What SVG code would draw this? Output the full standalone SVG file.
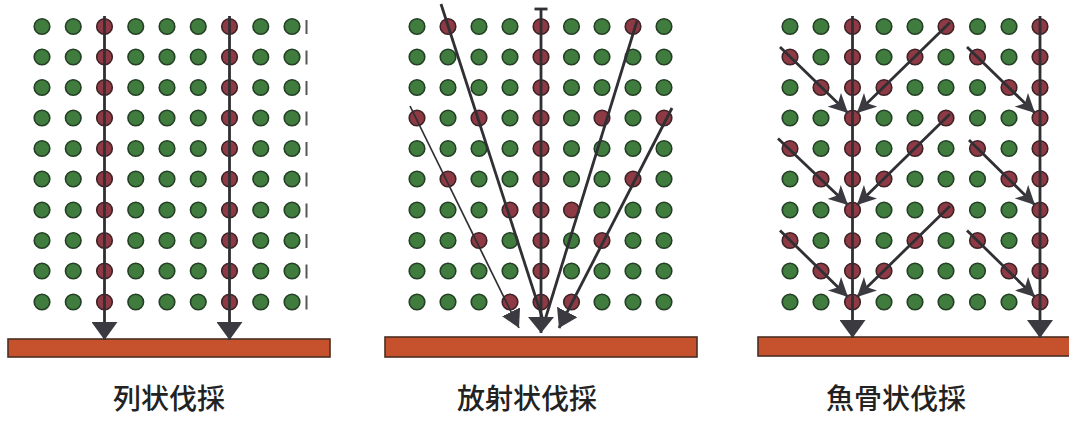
<svg xmlns="http://www.w3.org/2000/svg" xmlns:xlink="http://www.w3.org/1999/xlink" width="1069" height="421" viewBox="0 0 1069 421">
<style>
.g{fill:#3f7c3e;stroke:#243f25;stroke-width:1.6}
.r{fill:#8e3a44;stroke:#3d2226;stroke-width:1.6}
.ln{stroke:#2f2f34;stroke-width:2.8;fill:none}
.thin{stroke:#2f2f34;stroke-width:1.7;fill:none}
.stub{stroke:#555;stroke-width:2}
.bar{fill:#c5522d;stroke:#4b2e22;stroke-width:1.6}
.lbl{font-family:"Noto Sans CJK JP","Noto Sans CJK SC",sans-serif;font-size:28px;font-weight:500;fill:#222;text-anchor:middle}
.hd{fill:#3a3a40}
</style>
<defs>
<circle id="dg" r="7.8" class="g"/>
<circle id="dr" r="7.8" class="r"/>
<marker id="hv" viewBox="0 0 18 26" refX="18" refY="13" markerWidth="18" markerHeight="26" markerUnits="userSpaceOnUse" orient="auto"><path class="hd" d="M0,0 L18,13 L0,26 z"/></marker>
<marker id="hc" viewBox="0 0 16 26" refX="16" refY="13" markerWidth="16" markerHeight="26" markerUnits="userSpaceOnUse" orient="auto"><path class="hd" d="M0,0 L16,13 L0,26 z"/></marker>
<marker id="hs" viewBox="0 0 18 20" refX="18" refY="10" markerWidth="18" markerHeight="20" markerUnits="userSpaceOnUse" orient="auto"><path class="hd" d="M0,0 L18,10 L0,20 z"/></marker>
<marker id="hm" viewBox="0 0 18 23" refX="18" refY="11.5" markerWidth="18" markerHeight="23" markerUnits="userSpaceOnUse" orient="auto"><path class="hd" d="M0,0 L18,11.5 L0,23 z"/></marker>
<marker id="hb" viewBox="0 0 19 19" refX="19" refY="9.5" markerWidth="19" markerHeight="19" markerUnits="userSpaceOnUse" orient="auto"><path class="hd" d="M0,0 L19,9.5 L0,19 L5,9.5 z"/></marker>
</defs>
<rect width="1069" height="421" fill="#ffffff"/>

<!-- Panel 1 -->
<g id="panel1-trees">
<use href="#dg" x="42" y="26.5"/><use href="#dg" x="73.25" y="26.5"/><use href="#dr" x="104.5" y="26.5"/><use href="#dg" x="135.75" y="26.5"/><use href="#dg" x="167" y="26.5"/><use href="#dg" x="198.25" y="26.5"/><use href="#dr" x="229.5" y="26.5"/><use href="#dg" x="260.75" y="26.5"/><use href="#dg" x="292" y="26.5"/>
<use href="#dg" x="42" y="57"/><use href="#dg" x="73.25" y="57"/><use href="#dr" x="104.5" y="57"/><use href="#dg" x="135.75" y="57"/><use href="#dg" x="167" y="57"/><use href="#dg" x="198.25" y="57"/><use href="#dr" x="229.5" y="57"/><use href="#dg" x="260.75" y="57"/><use href="#dg" x="292" y="57"/>
<use href="#dg" x="42" y="87.5"/><use href="#dg" x="73.25" y="87.5"/><use href="#dr" x="104.5" y="87.5"/><use href="#dg" x="135.75" y="87.5"/><use href="#dg" x="167" y="87.5"/><use href="#dg" x="198.25" y="87.5"/><use href="#dr" x="229.5" y="87.5"/><use href="#dg" x="260.75" y="87.5"/><use href="#dg" x="292" y="87.5"/>
<use href="#dg" x="42" y="118"/><use href="#dg" x="73.25" y="118"/><use href="#dr" x="104.5" y="118"/><use href="#dg" x="135.75" y="118"/><use href="#dg" x="167" y="118"/><use href="#dg" x="198.25" y="118"/><use href="#dr" x="229.5" y="118"/><use href="#dg" x="260.75" y="118"/><use href="#dg" x="292" y="118"/>
<use href="#dg" x="42" y="148.5"/><use href="#dg" x="73.25" y="148.5"/><use href="#dr" x="104.5" y="148.5"/><use href="#dg" x="135.75" y="148.5"/><use href="#dg" x="167" y="148.5"/><use href="#dg" x="198.25" y="148.5"/><use href="#dr" x="229.5" y="148.5"/><use href="#dg" x="260.75" y="148.5"/><use href="#dg" x="292" y="148.5"/>
<use href="#dg" x="42" y="179"/><use href="#dg" x="73.25" y="179"/><use href="#dr" x="104.5" y="179"/><use href="#dg" x="135.75" y="179"/><use href="#dg" x="167" y="179"/><use href="#dg" x="198.25" y="179"/><use href="#dr" x="229.5" y="179"/><use href="#dg" x="260.75" y="179"/><use href="#dg" x="292" y="179"/>
<use href="#dg" x="42" y="210"/><use href="#dg" x="73.25" y="210"/><use href="#dr" x="104.5" y="210"/><use href="#dg" x="135.75" y="210"/><use href="#dg" x="167" y="210"/><use href="#dg" x="198.25" y="210"/><use href="#dr" x="229.5" y="210"/><use href="#dg" x="260.75" y="210"/><use href="#dg" x="292" y="210"/>
<use href="#dg" x="42" y="240.5"/><use href="#dg" x="73.25" y="240.5"/><use href="#dr" x="104.5" y="240.5"/><use href="#dg" x="135.75" y="240.5"/><use href="#dg" x="167" y="240.5"/><use href="#dg" x="198.25" y="240.5"/><use href="#dr" x="229.5" y="240.5"/><use href="#dg" x="260.75" y="240.5"/><use href="#dg" x="292" y="240.5"/>
<use href="#dg" x="42" y="271"/><use href="#dg" x="73.25" y="271"/><use href="#dr" x="104.5" y="271"/><use href="#dg" x="135.75" y="271"/><use href="#dg" x="167" y="271"/><use href="#dg" x="198.25" y="271"/><use href="#dr" x="229.5" y="271"/><use href="#dg" x="260.75" y="271"/><use href="#dg" x="292" y="271"/>
<use href="#dg" x="42" y="302"/><use href="#dg" x="73.25" y="302"/><use href="#dr" x="104.5" y="302"/><use href="#dg" x="135.75" y="302"/><use href="#dg" x="167" y="302"/><use href="#dg" x="198.25" y="302"/><use href="#dr" x="229.5" y="302"/><use href="#dg" x="260.75" y="302"/><use href="#dg" x="292" y="302"/>
<g class="stub">
<line x1="306.5" y1="20" x2="306.5" y2="34"/><line x1="306.5" y1="50.5" x2="306.5" y2="64.5"/><line x1="306.5" y1="81" x2="306.5" y2="95"/><line x1="306.5" y1="111.5" x2="306.5" y2="125.5"/><line x1="306.5" y1="142" x2="306.5" y2="156"/><line x1="306.5" y1="172.5" x2="306.5" y2="186.5"/><line x1="306.5" y1="203.5" x2="306.5" y2="217.5"/><line x1="306.5" y1="234" x2="306.5" y2="248"/><line x1="306.5" y1="264.5" x2="306.5" y2="278.5"/><line x1="306.5" y1="295.5" x2="306.5" y2="309.5"/>
</g>
</g>
<rect id="panel1-road" class="bar" x="8" y="339" width="322" height="18"/>
<g id="panel1-connectors">
<line class="ln" x1="104.5" y1="16" x2="104.5" y2="340" marker-end="url(#hv)"/>
<line class="ln" x1="229.5" y1="16" x2="229.5" y2="340" marker-end="url(#hv)"/>
</g>
<text id="panel1-label" class="lbl" x="169" y="409">列状伐採</text>

<!-- Panel 2 -->
<g id="panel2-trees">
<use href="#dg" x="417" y="26.5"/><use href="#dr" x="448" y="26.5"/><use href="#dg" x="479" y="26.5"/><use href="#dg" x="510" y="26.5"/><use href="#dr" x="541" y="26.5"/><use href="#dg" x="571.5" y="26.5"/><use href="#dg" x="602" y="26.5"/><use href="#dr" x="633" y="26.5"/><use href="#dg" x="664" y="26.5"/>
<use href="#dg" x="417" y="57"/><use href="#dg" x="448" y="57"/><use href="#dg" x="479" y="57"/><use href="#dg" x="510" y="57"/><use href="#dr" x="541" y="57"/><use href="#dg" x="571.5" y="57"/><use href="#dg" x="602" y="57"/><use href="#dg" x="633" y="57"/><use href="#dg" x="664" y="57"/>
<use href="#dg" x="417" y="87.5"/><use href="#dg" x="448" y="87.5"/><use href="#dg" x="479" y="87.5"/><use href="#dg" x="510" y="87.5"/><use href="#dr" x="541" y="87.5"/><use href="#dg" x="571.5" y="87.5"/><use href="#dg" x="602" y="87.5"/><use href="#dg" x="633" y="87.5"/><use href="#dg" x="664" y="87.5"/>
<use href="#dr" x="417" y="118"/><use href="#dg" x="448" y="118"/><use href="#dr" x="479" y="118"/><use href="#dg" x="510" y="118"/><use href="#dr" x="541" y="118"/><use href="#dg" x="571.5" y="118"/><use href="#dr" x="602" y="118"/><use href="#dg" x="633" y="118"/><use href="#dr" x="664" y="118"/>
<use href="#dg" x="417" y="148.5"/><use href="#dg" x="448" y="148.5"/><use href="#dg" x="479" y="148.5"/><use href="#dg" x="510" y="148.5"/><use href="#dr" x="541" y="148.5"/><use href="#dg" x="571.5" y="148.5"/><use href="#dg" x="602" y="148.5"/><use href="#dg" x="633" y="148.5"/><use href="#dg" x="664" y="148.5"/>
<use href="#dg" x="417" y="179"/><use href="#dr" x="448" y="179"/><use href="#dg" x="479" y="179"/><use href="#dg" x="510" y="179"/><use href="#dr" x="541" y="179"/><use href="#dg" x="571.5" y="179"/><use href="#dg" x="602" y="179"/><use href="#dr" x="633" y="179"/><use href="#dg" x="664" y="179"/>
<use href="#dg" x="417" y="210"/><use href="#dg" x="448" y="210"/><use href="#dg" x="479" y="210"/><use href="#dr" x="510" y="210"/><use href="#dr" x="541" y="210"/><use href="#dr" x="571.5" y="210"/><use href="#dg" x="602" y="210"/><use href="#dg" x="633" y="210"/><use href="#dg" x="664" y="210"/>
<use href="#dg" x="417" y="240.5"/><use href="#dg" x="448" y="240.5"/><use href="#dr" x="479" y="240.5"/><use href="#dg" x="510" y="240.5"/><use href="#dr" x="541" y="240.5"/><use href="#dg" x="571.5" y="240.5"/><use href="#dr" x="602" y="240.5"/><use href="#dg" x="633" y="240.5"/><use href="#dg" x="664" y="240.5"/>
<use href="#dg" x="417" y="271"/><use href="#dg" x="448" y="271"/><use href="#dg" x="479" y="271"/><use href="#dg" x="510" y="271"/><use href="#dr" x="541" y="271"/><use href="#dg" x="571.5" y="271"/><use href="#dg" x="602" y="271"/><use href="#dg" x="633" y="271"/><use href="#dg" x="664" y="271"/>
<use href="#dg" x="417" y="302"/><use href="#dg" x="448" y="302"/><use href="#dg" x="479" y="302"/><use href="#dr" x="510" y="302"/><use href="#dr" x="541" y="302"/><use href="#dr" x="571.5" y="302"/><use href="#dg" x="602" y="302"/><use href="#dg" x="633" y="302"/><use href="#dg" x="664" y="302"/>
</g>
<rect id="panel2-road" class="bar" x="385" y="337" width="312" height="20"/>
<g id="panel2-connectors">
<line class="thin" x1="410" y1="106" x2="519" y2="328" marker-end="url(#hs)"/>
<line class="ln" x1="441" y1="4" x2="543" y2="320"/>
<line class="ln" x1="637" y1="21" x2="545" y2="320"/>
<line class="ln" x1="541" y1="9" x2="541" y2="333" marker-end="url(#hc)"/>
<line class="ln" x1="534.5" y1="9" x2="547.5" y2="9"/>
<line class="ln" x1="672" y1="108" x2="559" y2="328" marker-end="url(#hm)"/>
</g>
<text id="panel2-label" class="lbl" x="527" y="409">放射状伐採</text>

<!-- Panel 3 -->
<g id="panel3-trees">
<use href="#dg" x="790" y="26.5"/><use href="#dg" x="821" y="26.5"/><use href="#dr" x="852.5" y="26.5"/><use href="#dg" x="884" y="26.5"/><use href="#dg" x="915" y="26.5"/><use href="#dr" x="946" y="26.5"/><use href="#dg" x="977.5" y="26.5"/><use href="#dg" x="1009" y="26.5"/><use href="#dr" x="1040" y="26.5"/>
<use href="#dr" x="790" y="57"/><use href="#dg" x="821" y="57"/><use href="#dr" x="852.5" y="57"/><use href="#dg" x="884" y="57"/><use href="#dr" x="915" y="57"/><use href="#dg" x="946" y="57"/><use href="#dr" x="977.5" y="57"/><use href="#dg" x="1009" y="57"/><use href="#dr" x="1040" y="57"/>
<use href="#dg" x="790" y="87.5"/><use href="#dr" x="821" y="87.5"/><use href="#dr" x="852.5" y="87.5"/><use href="#dr" x="884" y="87.5"/><use href="#dg" x="915" y="87.5"/><use href="#dg" x="946" y="87.5"/><use href="#dg" x="977.5" y="87.5"/><use href="#dr" x="1009" y="87.5"/><use href="#dr" x="1040" y="87.5"/>
<use href="#dg" x="790" y="118"/><use href="#dg" x="821" y="118"/><use href="#dr" x="852.5" y="118"/><use href="#dg" x="884" y="118"/><use href="#dg" x="915" y="118"/><use href="#dr" x="946" y="118"/><use href="#dg" x="977.5" y="118"/><use href="#dg" x="1009" y="118"/><use href="#dr" x="1040" y="118"/>
<use href="#dr" x="790" y="148.5"/><use href="#dg" x="821" y="148.5"/><use href="#dr" x="852.5" y="148.5"/><use href="#dg" x="884" y="148.5"/><use href="#dr" x="915" y="148.5"/><use href="#dg" x="946" y="148.5"/><use href="#dr" x="977.5" y="148.5"/><use href="#dg" x="1009" y="148.5"/><use href="#dr" x="1040" y="148.5"/>
<use href="#dg" x="790" y="179"/><use href="#dr" x="821" y="179"/><use href="#dr" x="852.5" y="179"/><use href="#dr" x="884" y="179"/><use href="#dg" x="915" y="179"/><use href="#dg" x="946" y="179"/><use href="#dg" x="977.5" y="179"/><use href="#dr" x="1009" y="179"/><use href="#dr" x="1040" y="179"/>
<use href="#dg" x="790" y="210"/><use href="#dg" x="821" y="210"/><use href="#dr" x="852.5" y="210"/><use href="#dg" x="884" y="210"/><use href="#dg" x="915" y="210"/><use href="#dr" x="946" y="210"/><use href="#dg" x="977.5" y="210"/><use href="#dg" x="1009" y="210"/><use href="#dr" x="1040" y="210"/>
<use href="#dr" x="790" y="240.5"/><use href="#dg" x="821" y="240.5"/><use href="#dr" x="852.5" y="240.5"/><use href="#dg" x="884" y="240.5"/><use href="#dr" x="915" y="240.5"/><use href="#dg" x="946" y="240.5"/><use href="#dr" x="977.5" y="240.5"/><use href="#dg" x="1009" y="240.5"/><use href="#dr" x="1040" y="240.5"/>
<use href="#dg" x="790" y="271"/><use href="#dr" x="821" y="271"/><use href="#dr" x="852.5" y="271"/><use href="#dr" x="884" y="271"/><use href="#dg" x="915" y="271"/><use href="#dg" x="946" y="271"/><use href="#dg" x="977.5" y="271"/><use href="#dr" x="1009" y="271"/><use href="#dr" x="1040" y="271"/>
<use href="#dg" x="790" y="302"/><use href="#dg" x="821" y="302"/><use href="#dr" x="852.5" y="302"/><use href="#dg" x="884" y="302"/><use href="#dg" x="915" y="302"/><use href="#dg" x="946" y="302"/><use href="#dg" x="977.5" y="302"/><use href="#dg" x="1009" y="302"/><use href="#dr" x="1040" y="302"/>
</g>
<rect id="panel3-road" class="bar" x="758" y="337" width="318" height="19"/>
<g id="panel3-connectors">
<line class="ln" x1="852.5" y1="16" x2="852.5" y2="338" marker-end="url(#hv)"/>
<line class="ln" x1="1040" y1="16" x2="1040" y2="338" marker-end="url(#hv)"/>
<line class="ln" x1="780" y1="47" x2="848" y2="113" marker-end="url(#hb)"/>
<line class="ln" x1="950" y1="22.5" x2="857" y2="113" marker-end="url(#hb)"/>
<line class="ln" x1="778" y1="138.5" x2="848" y2="205" marker-end="url(#hb)"/>
<line class="ln" x1="950" y1="114" x2="857" y2="205" marker-end="url(#hb)"/>
<line class="ln" x1="780" y1="230.5" x2="848" y2="297" marker-end="url(#hb)"/>
<line class="ln" x1="950" y1="206" x2="857" y2="297" marker-end="url(#hb)"/>
<line class="ln" x1="967" y1="47" x2="1035" y2="113" marker-end="url(#hb)"/>
<line class="ln" x1="969" y1="140" x2="1035" y2="205" marker-end="url(#hb)"/>
<line class="ln" x1="967" y1="230.5" x2="1035" y2="297" marker-end="url(#hb)"/>
</g>
<text id="panel3-label" class="lbl" x="896" y="409">魚骨状伐採</text>
</svg>
